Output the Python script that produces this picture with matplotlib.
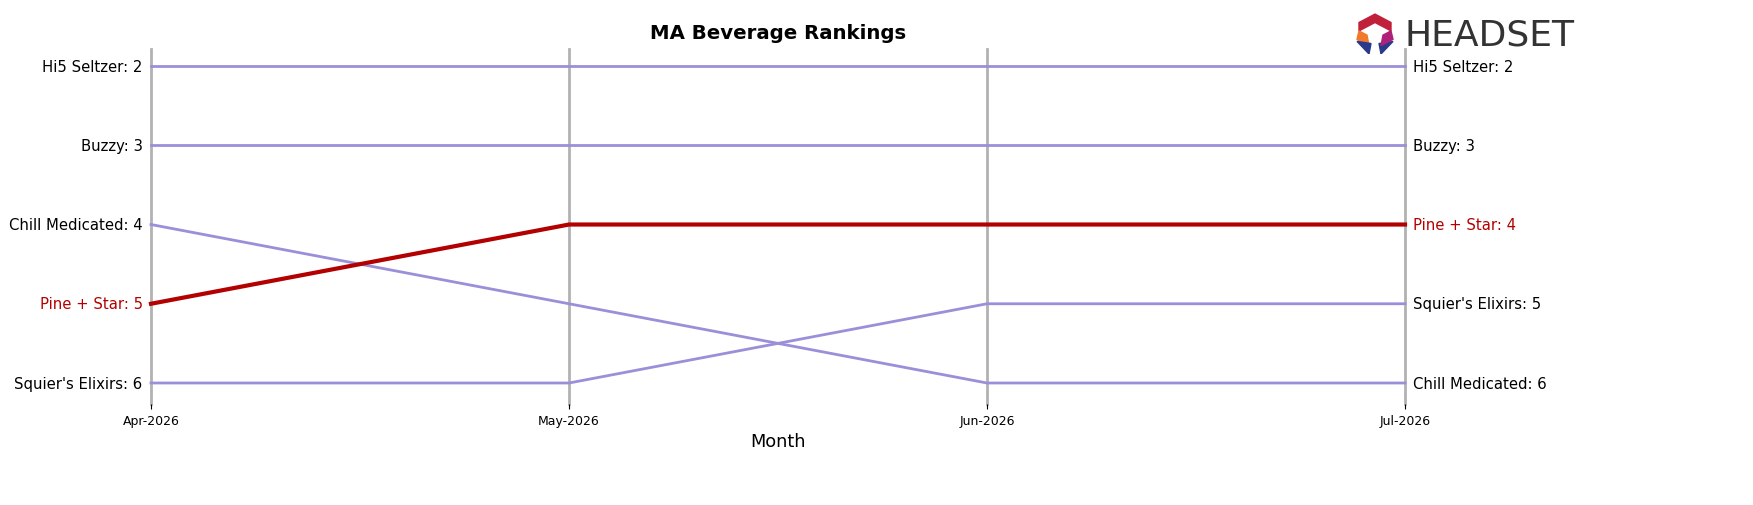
import matplotlib
matplotlib.use("Agg")
import matplotlib.pyplot as plt
from matplotlib.patches import Polygon

months = ["Apr-2026", "May-2026", "Jun-2026", "Jul-2026"]
brands = ["Hi5 Seltzer", "Buzzy", "Chill Medicated", "Pine + Star", "Squier's Elixirs"]
ranks = {
    "Hi5 Seltzer": [2, 2, 2, 2],
    "Buzzy": [3, 3, 3, 3],
    "Chill Medicated": [4, 5, 6, 6],
    "Pine + Star": [5, 4, 4, 4],
    "Squier's Elixirs": [6, 6, 5, 5],
}
highlight = "Pine + Star"
purple = "#9b8fd9"
red = "#b30000"

fig = plt.figure(figsize=(17.53, 5.06), dpi=100)
ax = fig.add_axes([151/1753, 1-405/506, (1405-151)/1753, (405-50)/506])
x = list(range(len(months)))
for xi in x:
    ax.axvline(xi, color="#999999", lw=2, alpha=0.75, zorder=1, clip_on=False)
for b in brands:
    hl = b == highlight
    ax.plot(x, ranks[b], color=red if hl else purple, lw=3 if hl else 2,
            zorder=3 if hl else 2, clip_on=False)
    c = red if hl else "black"
    ax.text(-0.02, ranks[b][0], f"{b}: {ranks[b][0]}", ha="right", va="center", fontsize=10.7, color=c)
    ax.text(len(x)-1+0.02, ranks[b][-1], f"{b}: {ranks[b][-1]}", ha="left", va="center", fontsize=10.7, color=c)
ax.set_xlim(0, len(x)-1)
ax.set_ylim(6.265, 1.785)
ax.set_xticks(x)
ax.set_xticklabels(months, fontsize=9)
ax.set_yticks([])
for s in ax.spines.values():
    s.set_visible(False)
ax.set_xlabel("Month", fontsize=12.8)
ax.set_title("MA Beverage Rankings", fontsize=14.2, fontweight="bold", pad=8)

# logo
lx = fig.add_axes([1355/1753, 1-55/506, 40/1753, 42/506])
lx.set_xlim(0, 1); lx.set_ylim(0, 1); lx.axis("off")
lx.add_patch(Polygon([[0.1,0.75],[0.5,0.95],[0.9,0.75],[0.9,0.55],[0.6,0.7],[0.5,0.75],[0.4,0.7],[0.1,0.55]], color="#c0203a"))
lx.add_patch(Polygon([[0.1,0.55],[0.3,0.45],[0.35,0.2],[0.05,0.35]], color="#f07a2a"))
lx.add_patch(Polygon([[0.05,0.3],[0.35,0.0],[0.4,0.25]], color="#2a3a8a"))
lx.add_patch(Polygon([[0.95,0.3],[0.65,0.0],[0.6,0.25]], color="#2a3a8a"))
lx.add_patch(Polygon([[0.9,0.55],[0.7,0.45],[0.65,0.2],[0.95,0.35]], color="#b0207a"))
fig.text(1404/1753, 1-35/506, "HEADSET", fontsize=26, color="#333333", va="center", ha="left")
fig.savefig("out.png", dpi=100)
